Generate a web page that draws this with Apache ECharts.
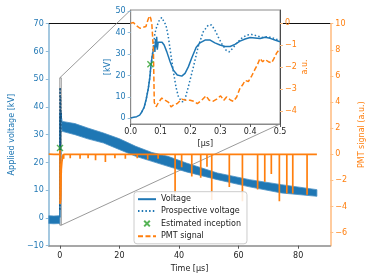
<!DOCTYPE html>
<html><head><meta charset="utf-8">
<script src="https://cdn.jsdelivr.net/npm/echarts@6/dist/echarts.min.js"></script>
<style>html,body{margin:0;padding:0;background:#fff}#c{width:374px;height:280px}</style>
</head><body><div id="c"></div>
<script>
const FONT = 'DejaVu Sans';
// ---------------- data ----------------
// main axis ranges / ticks
const mainX = [-3.7, 90.8];
const mainXTicks = [0, 20, 40, 60, 80];
const mainY = [-10, 70];
const mainYTicks = [-10, 0, 10, 20, 30, 40, 50, 60, 70];
const pmtY = [-7, 10];
const pmtYTicks = [-6, -4, -2, 0, 2, 4, 6, 8, 10];
// inset ranges / ticks
const insetX = [0, 0.5];
const insetXTicks = [0, 0.1, 0.2, 0.3, 0.4, 0.5];
const insetY = [-2.6, 50.5];
const insetYTicks = [0, 10, 20, 30, 40, 50];
const insetPmtY = [-4.58, 0.6];
const insetPmtTicks = [-4, -3, -2, -1, 0];

// voltage noise band (main plot), before trigger
const vPreT  = [-3.7, -2.0, 0.0];
const vPreLo = [-2.0, -2.1, -2.0];
const vPreHi = [0.8, 0.7, 0.8];
// voltage noise band (main plot), slow decay
const vPostT  = [0.6, 0.8, 5.1, 9.4, 14.7, 20.1, 25.5, 30.9, 36.3, 42.5, 52.9, 63.7, 74.4, 86.3];
const vPostLo = [32.5, 31.2, 30.0, 28.5, 27.0, 24.6, 22.2, 20.4, 18.6, 16.6, 13.8, 11.2, 9.0, 7.8];
const vPostHi = [36.0, 34.8, 34.0, 32.4, 30.6, 28.5, 25.8, 23.6, 22.2, 19.8, 16.2, 13.8, 12.0, 10.2];

// fast voltage (inset), [time μs, kV]
const voltFast = [[0,0.2],[0.01,0.5],[0.02,0.8],[0.03,1.5],[0.037,3],[0.045,5.2],[0.052,9],[0.059,14],[0.064,19],[0.068,25],[0.072,29],[0.076,32],[0.079,34],[0.081,31],[0.083,37],[0.085,33],[0.087,38],[0.089,32],[0.092,35.5],[0.098,35],[0.105,35.5],[0.112,34.2],[0.121,31],[0.132,26.4],[0.143,22.5],[0.156,20.2],[0.171,19.7],[0.182,21],[0.193,24],[0.204,28],[0.219,33],[0.232,35.2],[0.249,36.5],[0.266,36.5],[0.282,35.2],[0.299,34.2],[0.316,33.5],[0.333,33.5],[0.349,34.5],[0.366,36],[0.383,37],[0.4,37.7],[0.416,37.5],[0.433,37.2],[0.45,37.8],[0.467,37.3],[0.483,36.5],[0.5,35.7]];
// prospective voltage (inset)
const prospective = [[0.037,3],[0.045,5.2],[0.052,9],[0.059,14],[0.064,19],[0.068,25],[0.072,29],[0.076,33.5],[0.081,39.6],[0.087,42.7],[0.096,45.8],[0.104,47],[0.109,46.9],[0.118,43.5],[0.126,38],[0.134,30.3],[0.143,21.7],[0.152,14.4],[0.16,10],[0.171,7.8],[0.18,8],[0.193,14.7],[0.21,24],[0.226,33.4],[0.243,40.4],[0.26,43.5],[0.271,43.5],[0.282,41.1],[0.293,38],[0.304,35],[0.319,31.8],[0.33,31],[0.341,32.6],[0.355,35],[0.371,37.3],[0.388,38.8],[0.405,39.1],[0.422,38.5],[0.438,37.7],[0.455,38],[0.472,37.7],[0.489,36.8],[0.5,36.5]];
// PMT signal (inset), [time μs, a.u.]
const pmtFast = [[0,0],[0.009,0.03],[0.02,-0.12],[0.031,-0.23],[0.042,-0.18],[0.051,-0.15],[0.057,0.12],[0.0625,0.33],[0.067,0.23],[0.071,-0.08],[0.076,-1.2],[0.079,-3.6],[0.085,-3.8],[0.093,-3.6],[0.104,-3.4],[0.115,-3.5],[0.127,-3.6],[0.135,-3.8],[0.145,-3.7],[0.156,-3.65],[0.171,-3.45],[0.185,-3.5],[0.199,-3.5],[0.212,-3.55],[0.223,-3.65],[0.238,-3.5],[0.252,-3.3],[0.263,-3.5],[0.275,-3.55],[0.288,-3.45],[0.301,-3.3],[0.312,-3.5],[0.321,-3.35],[0.335,-3.5],[0.344,-3.55],[0.355,-3.35],[0.366,-2.95],[0.375,-2.8],[0.383,-2.6],[0.394,-2.65],[0.405,-2.4],[0.416,-2.1],[0.424,-1.9],[0.433,-1.6],[0.442,-1.75],[0.45,-1.65],[0.461,-1.75],[0.472,-1.8],[0.48,-1.6],[0.489,-1.35],[0.5,-1.15]];
// PMT signal (main): before trigger, recovery, spikes, end
const pmtPre = [[-3.7,0.02],[-2.0,0.0],[-0.01,0.0]];
const pmtRecover = [[0.7,-0.6],[1.1,0.0]];
const pmtSpikes = [[1.3,-0.35],[3.5,-0.3],[6.8,-0.35],[9.5,-0.3],[12.0,-0.45],[15.3,-0.6],[18.5,-0.3],[22,-0.35],[26,-0.3],[29.5,-0.4],[33,-0.35],[38.7,-3.0],[40.9,-1.0],[44.3,-1.7],[47.3,-1.8],[49.4,-0.95],[51.0,-3.5],[56.9,-2.5],[61.3,-3.6],[66.4,-2.7],[68.8,-2.1],[71.0,-1.5],[73.7,-3.6],[76.2,-3.0],[78.2,-3.0],[83.0,-3.1]];
const pmtEnd = [[86.3,0.0]];
// estimated inception
const inception = [[0.066, 25.2]];

// ---------------- build tables ----------------
const pmtMain = [].concat(pmtPre, pmtFast, pmtRecover);
pmtSpikes.forEach(s => { pmtMain.push([s[0], 0], [s[0], s[1]], [s[0], 0]); });
pmtEnd.forEach(p => pmtMain.push(p));

const BLUE = '#1f77b4', ORANGE = '#ff7f0e', GREEN = '#2ca02c';
const minus = v => String(v).replace('-', '\u2212');
const xMark = 'path://M0,0L10,10M0,10L10,0';
const xMarkLegend = 'path://M-3,-3L-3,-3M0,0L10,10M0,10L10,0M13,13L13,13';
const lbl = (c) => ({fontFamily: FONT, fontSize: 8, color: c});

// band drawn as one polygon through the axis scales
function band(T, LO, HI) {
  return {
    type: 'custom', xAxisIndex: 0, yAxisIndex: 0, clip: true, silent: true, z: 2,
    data: T.map((t, i) => [t, LO[i], HI[i]]),
    encode: {x: 0, y: [1, 2]},
    renderItem: (params, api) => {
      if (params.dataIndex !== 0) return null;
      const pts = [];
      T.forEach((t, i) => pts.push(api.coord([t, HI[i]])));
      for (let i = T.length - 1; i >= 0; i--) pts.push(api.coord([T[i], LO[i]]));
      return {type: 'polygon', shape: {points: pts}, style: {fill: BLUE, stroke: '#4a90c4', lineWidth: 0.8}};
    }
  };
}

const hideSym = {opacity: 0};
const option = {
  animation: false,
  backgroundColor: '#fff',
  textStyle: {fontFamily: FONT},
  grid: [
    {left: 42.7, right: 38.3, top: 23.7, bottom: 34.3, show: false},
    {left: 130.7, top: 10, width: 149.3, height: 114, show: true, backgroundColor: '#fff', borderColor: '#8a8a8a', borderWidth: 1, z: 5}
  ],
  legend: {
    left: 134, top: 191.7, orient: 'vertical', itemWidth: 18, itemHeight: 9, itemGap: 2.7,
    padding: [3, 6, 3, 3], backgroundColor: 'rgba(255,255,255,0.85)', borderColor: '#cccccc', borderWidth: 1, borderRadius: 3,
    textStyle: {fontFamily: FONT, fontSize: 8, color: '#222', lineHeight: 9},
    data: [
      {name: 'Voltage', itemStyle: hideSym},
      {name: 'Prospective voltage', itemStyle: hideSym},
      {name: 'Estimated inception', icon: xMarkLegend},
      {name: 'PMT signal', itemStyle: hideSym}
    ],
    z: 8
  },
  xAxis: [
    {gridIndex: 0, type: 'value', min: mainX[0], max: mainX[1], position: 'bottom',
     axisLine: {onZero: false, lineStyle: {color: '#8a8a8a', width: 1.6}},
     axisTick: {customValues: mainXTicks, length: 3, lineStyle: {color: '#555'}},
     axisLabel: Object.assign({customValues: mainXTicks, margin: 6, formatter: minus}, lbl('#222')),
     splitLine: {show: false},
     name: 'Time [μs]', nameLocation: 'middle', nameGap: 13, nameTextStyle: lbl('#222')},
    {gridIndex: 1, type: 'value', min: insetX[0], max: insetX[1], position: 'bottom', z: 6,
     axisLine: {onZero: false, lineStyle: {color: '#8a8a8a', width: 1}},
     axisTick: {customValues: insetXTicks, length: 3, lineStyle: {color: '#555'}},
     axisLabel: Object.assign({customValues: insetXTicks, margin: 4, formatter: v => v.toFixed(1)}, lbl('#222')),
     splitLine: {show: false},
     name: '[μs]', nameLocation: 'middle', nameGap: 16, nameTextStyle: lbl('#222')},
    {gridIndex: 0, type: 'value', min: mainX[0], max: mainX[1], position: 'top',
     axisLine: {onZero: false, lineStyle: {color: '#111', width: 1}},
     axisTick: {show: false}, axisLabel: {show: false}, splitLine: {show: false}}
  ],
  yAxis: [
    {gridIndex: 0, type: 'value', min: mainY[0], max: mainY[1], position: 'left',
     axisLine: {show: true, onZero: false, lineStyle: {color: '#8fbbd9', width: 1.6}},
     axisTick: {show: true, customValues: mainYTicks, length: 3, lineStyle: {color: '#8fbbd9'}},
     axisLabel: Object.assign({customValues: mainYTicks, margin: 5, formatter: minus}, lbl(BLUE)),
     splitLine: {show: false},
     name: 'Applied voltage [kV]', nameLocation: 'middle', nameGap: 25, nameTextStyle: lbl(BLUE)},
    {gridIndex: 0, type: 'value', min: pmtY[0], max: pmtY[1], position: 'right',
     axisLine: {show: true, onZero: false, lineStyle: {color: '#ffbf86', width: 1.6}},
     axisTick: {show: true, customValues: pmtYTicks, length: 3, lineStyle: {color: '#ffbf86'}},
     axisLabel: Object.assign({customValues: pmtYTicks, margin: 5, formatter: minus}, lbl(ORANGE)),
     splitLine: {show: false},
     name: 'PMT signal (a.u.)', nameLocation: 'middle', nameGap: 22, nameTextStyle: lbl(ORANGE)},
    {gridIndex: 1, type: 'value', min: insetY[0], max: insetY[1], position: 'left', z: 6,
     axisLine: {show: true, onZero: false, lineStyle: {color: '#8a8a8a', width: 1}},
     axisTick: {show: true, customValues: insetYTicks, length: 3, lineStyle: {color: '#8fbbd9'}},
     axisLabel: Object.assign({customValues: insetYTicks, margin: 5, formatter: minus}, lbl(BLUE)),
     splitLine: {show: false},
     name: '[kV]', nameLocation: 'middle', nameGap: 19, nameTextStyle: lbl(BLUE)},
    {gridIndex: 1, type: 'value', min: insetPmtY[0], max: insetPmtY[1], position: 'right', z: 6,
     axisLine: {show: true, onZero: false, lineStyle: {color: '#4a4a4a', width: 1}},
     axisTick: {show: true, customValues: insetPmtTicks, length: 3, lineStyle: {color: '#ffbf86'}},
     axisLabel: Object.assign({customValues: insetPmtTicks, margin: 5, formatter: minus}, lbl(ORANGE)),
     splitLine: {show: false},
     name: 'a.u.', nameLocation: 'middle', nameGap: 20, nameTextStyle: lbl(ORANGE)}
  ],
  series: [
    // ---- main plot ----
    band(vPreT, vPreLo, vPreHi),
    band(vPostT, vPostLo, vPostHi),
    {name: 'voltFastMain', type: 'line', xAxisIndex: 0, yAxisIndex: 0, data: voltFast,
     symbol: 'circle', showSymbol: false, lineStyle: {width: 1.5, color: BLUE}, z: 2},
    {name: 'prospMain', type: 'line', xAxisIndex: 0, yAxisIndex: 0, data: prospective,
     symbol: 'circle', showSymbol: false, lineStyle: {width: 1.5, color: '#164f7a', type: [1.5, 2]}, z: 2},
    {name: 'pmtMain', type: 'line', xAxisIndex: 0, yAxisIndex: 1, data: pmtMain,
     symbol: 'circle', showSymbol: false, lineStyle: {width: 1.7, color: ORANGE}, z: 3},
    {name: 'inceptionMain', type: 'scatter', xAxisIndex: 0, yAxisIndex: 0, data: inception,
     symbol: xMark, symbolSize: 6, itemStyle: {color: GREEN, borderColor: GREEN, borderWidth: 1.4}, z: 4},
    // ---- inset ----
    {name: 'Voltage', type: 'line', xAxisIndex: 1, yAxisIndex: 2, data: voltFast,
     symbol: 'circle', showSymbol: false, lineStyle: {width: 1.5, color: BLUE}, itemStyle: {color: BLUE}, z: 7},
    {name: 'Prospective voltage', type: 'line', xAxisIndex: 1, yAxisIndex: 2, data: prospective,
     symbol: 'circle', showSymbol: false, lineStyle: {width: 1.5, color: BLUE, type: [1.5, 2.2]}, itemStyle: {color: BLUE}, z: 7},
    {name: 'Estimated inception', type: 'scatter', xAxisIndex: 1, yAxisIndex: 2, data: inception,
     symbol: xMark, symbolSize: 6, itemStyle: {color: GREEN, borderColor: GREEN, borderWidth: 1.4}, z: 9},
    {name: 'PMT signal', type: 'line', xAxisIndex: 1, yAxisIndex: 3, data: pmtFast,
     symbol: 'circle', showSymbol: false, lineStyle: {width: 1.5, color: ORANGE, type: [5, 2.5]}, itemStyle: {color: ORANGE}, z: 8}
  ]
};

const chart = echarts.init(document.getElementById('c'), null, {renderer: 'canvas'});
chart.setOption(option);

// zoom indicator: rectangle in the main plot and connectors to the inset
const rTL = chart.convertToPixel({seriesIndex: 2}, [insetX[0], insetY[1]]);
const rBR = chart.convertToPixel({seriesIndex: 2}, [insetX[1], insetY[0]]);
const iTL = chart.convertToPixel({seriesIndex: 6}, [insetX[0], insetY[1]]);
const iBR = chart.convertToPixel({seriesIndex: 6}, [insetX[1], insetY[0]]);
chart.setOption({graphic: [
  {type: 'rect', z: 1, shape: {x: rTL[0], y: rTL[1], width: rBR[0] - rTL[0], height: rBR[1] - rTL[1]},
   style: {fill: 'none', stroke: '#808080', lineWidth: 0.8}},
  {type: 'line', z: 1, shape: {x1: rTL[0], y1: rTL[1], x2: iTL[0], y2: iTL[1]}, style: {stroke: '#808080', lineWidth: 0.8}},
  {type: 'line', z: 1, shape: {x1: rBR[0], y1: rBR[1], x2: iBR[0], y2: iBR[1]}, style: {stroke: '#808080', lineWidth: 0.8}}
]});
</script>
</body></html>
